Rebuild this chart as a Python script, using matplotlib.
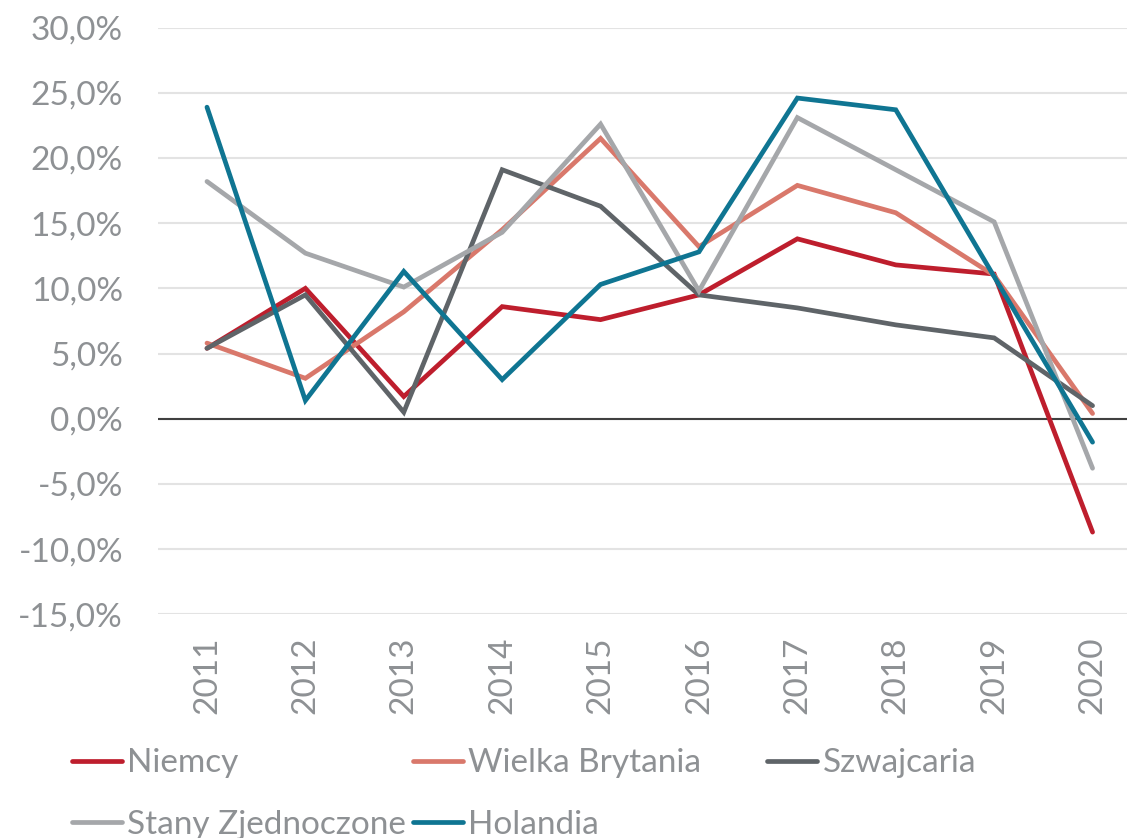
import numpy as np
import matplotlib
matplotlib.use("Agg")
import matplotlib.pyplot as plt
from matplotlib.ticker import FuncFormatter

years = ["2011", "2012", "2013", "2014", "2015", "2016", "2017", "2018", "2019", "2020"]

niemcy = [5.4, 10.0, 1.7, 8.6, 7.6, 9.5, 13.8, 11.8, 11.1, -8.7]
wielka_brytania = [5.8, 3.1, 8.2, 14.5, 21.5, 13.2, 17.9, 15.8, 11.0, 0.4]
szwajcaria = [5.4, 9.5, 0.5, 19.1, 16.3, 9.5, 8.5, 7.2, 6.2, 1.0]
stany_zjednoczone = [18.2, 12.7, 10.1, 14.3, 22.6, 9.8, 23.1, 19.1, 15.1, -3.8]
holandia = [23.9, 1.4, 11.3, 3.0, 10.3, 12.8, 24.6, 23.7, 10.9, -1.8]

series = [
    ("Niemcy", niemcy, "#BE1E2D"),
    ("Wielka Brytania", wielka_brytania, "#D9786B"),
    ("Szwajcaria", szwajcaria, "#5F6468"),
    ("Stany Zjednoczone", stany_zjednoczone, "#A5A7AA"),
    ("Holandia", holandia, "#0F7592"),
]

txt_color = "#8E9194"
plt.rcParams['font.family'] = ['Lato', 'DejaVu Sans']

fig = plt.figure(figsize=(11.27, 8.38), dpi=100)
ax = fig.add_axes([0.140, 0.267, 0.860, 0.700])

x = np.arange(len(years))
lines = {}
for name, vals, col in series:
    ln, = ax.plot(x, vals, color=col, lw=3.4, solid_capstyle='round',
                  solid_joinstyle='miter', label=name)
    lines[name] = ln

ax.set_xlim(-0.5, 9.35)
ax.set_ylim(-15, 30)
ax.set_yticks(np.arange(-15, 31, 5))
ax.yaxis.set_major_formatter(FuncFormatter(lambda v, p: f"{v:.1f}%".replace(".", ",")))
ax.grid(axis='y', color='#E3E3E3', lw=1.5)
ax.set_axisbelow(True)
ax.axhline(0, color='#404040', lw=1.5, zorder=1.5)

for s in ax.spines.values():
    s.set_visible(False)
ax.tick_params(axis='both', length=0, colors=txt_color, labelsize=24)
ax.tick_params(axis='y', pad=25)
ax.set_xticks(x)
ax.set_xticklabels(years, rotation=90)
ax.tick_params(axis='x', pad=16)

legend_kw = dict(loc='upper left', frameon=False, fontsize=24, handlelength=1.5,
                 handletextpad=0.15, columnspacing=0.2, labelspacing=0.95,
                 borderaxespad=0, borderpad=0)

order = ["Niemcy", "Stany Zjednoczone", "Wielka Brytania", "Holandia"]
leg1 = fig.legend([lines[n] for n in order], order, ncol=2,
                  bbox_to_anchor=(0.064, 0.107), **legend_kw)
leg2 = fig.legend([lines["Szwajcaria"]], ["Szwajcaria"], ncol=1,
                  bbox_to_anchor=(0.681, 0.107), **legend_kw)
for leg in (leg1, leg2):
    for t in leg.get_texts():
        t.set_color(txt_color)

fig.savefig("out.png", dpi=100)
